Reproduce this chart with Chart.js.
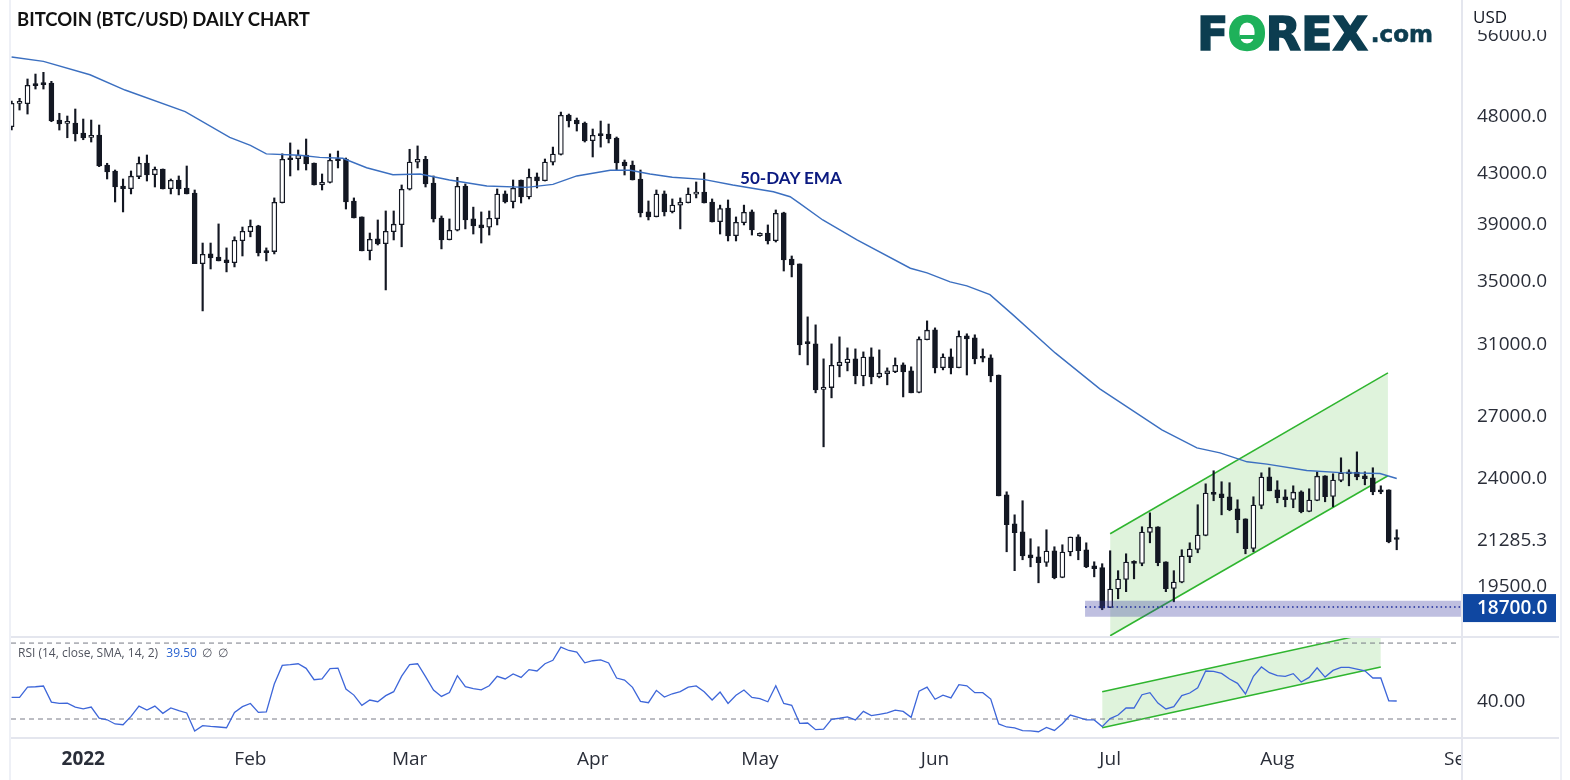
<!DOCTYPE html>
<html lang="en">
<head>
    <meta charset="UTF-8">
    <title>Bitcoin (BTC/USD) Daily Chart</title>
    <script src="https://cdn.jsdelivr.net/npm/chart.js"></script>
    <style>
        body { margin: 0; background: #fff; width: 1570px; height: 780px; overflow: hidden; position: relative; font-family: "Open Sans", sans-serif; }
        canvas { position: absolute; left: 0; }
        #priceChart { top: 0; }
        #rsiChart { top: 637px; }
        .frame { position: absolute; left: 9px; top: 0; width: 1549px; height: 780px; border-left: 2px solid #eef0f6; border-right: 2px solid #eef0f6; }
        .rule { position: absolute; left: 11px; width: 1548px; height: 2px; background: #e4e6ee; }
        .axis-line { position: absolute; left: 1461px; top: 0; width: 1.5px; height: 780px; background: #e4e6ee; }
        .title { position: absolute; left: 17px; top: 8px; font: bold 18.5px Lato, sans-serif; color: #111; white-space: nowrap; }
        .ema { position: absolute; left: 740px; top: 167px; font: bold 17.1px Lato, sans-serif; color: #0b1a80; white-space: nowrap; }
        .usd { position: absolute; left: 1464px; top: 0; width: 94px; height: 30px; background: #fff; }
        .usd span { position: absolute; left: 9px; top: 5px; font-size: 17px; color: #131722; }
        .rsi { position: absolute; left: 18px; top: 644px; font-size: 12px; color: #50535e; white-space: nowrap; }
        .rsi b { font-weight: normal; color: #2962d0; margin: 0 2px 0 5px; }
        .logo { position: absolute; left: 1197px; top: 7px; font: bold 46px "DejaVu Sans", sans-serif; color: #0c3d50; white-space: nowrap; -webkit-text-stroke: 1.5px #0c3d50; }
        .logo i { font-style: normal; color: #1eb15a; -webkit-text-stroke: 1.5px #1eb15a; position: relative; margin: 0 -1px; }
        .logo i::after { content: ''; position: absolute; left: 32%; top: 52%; width: 62%; height: 4px; background: #1eb15a; }
        .logo small { font-size: 23px; margin-left: 3px; position: relative; bottom: 8px; -webkit-text-stroke: 0.6px #0c3d50; }
    </style>
</head>
<body>
    <canvas id="priceChart" width="1570" height="637"></canvas>
    <canvas id="rsiChart" width="1570" height="143"></canvas>
    <div class="frame"></div>
    <div class="rule" style="top: 636px"></div>
    <div class="rule" style="top: 737px"></div>
    <div class="axis-line"></div>
    <div class="title">BITCOIN (BTC/USD) DAILY CHART</div>
    <div class="ema">50-DAY EMA</div>
    <div class="usd"><span>USD</span></div>
    <div class="logo">F<i>O</i>REX<small>.com</small></div>
    <div class="rsi">RSI (14, close, SMA, 14, 2) <b>39.50</b> ∅ &nbsp;∅</div>

<script>
    const opens = [
        46937,49089,49052,50939,51037,51037,47541,47240,47270,46373,
        45990,46197,43618,43120,41898,41682,42660,43785,42815,43285,
        41682,42382,41740,41340,36105,36785,36570,36363,36175,37730,
        38385,38810,37000,36950,40580,44205,44147,44460,43785,42005,
        42180,44120,44120,40712,39485,37015,37860,37510,38385,38910,
        41635,43845,44095,42140,39408,37805,38490,41898,39335,38885,
        38710,39360,41265,40660,42382,41030,42630,42325,43845,44510,
        48000,47541,47270,45690,46285,46285,45930,43870,43618,42464,
        39865,39510,41265,39890,40390,40580,41250,41420,40635,39130,
        40170,38090,39055,39865,38090,38287,37730,39790,36430,36085,
        30990,30960,28370,28475,29700,29870,30085,29120,30200,29080,
        29250,29360,29740,29400,28210,31215,31802,29585,30200,29585,
        31440,31320,30130,30140,29170,23190,21935,21600,20670,20590,
        20370,20830,19790,20780,21395,20870,20240,20165,18690,19360,
        19715,20395,20330,21570,21810,20395,19380,19610,20600,20880,
        21450,23280,23235,23100,22575,22145,20925,22720,24000,23411,
        23100,22980,23320,22460,22935,24050,23115,23830,24215,24215,
        24050,23955,23400,23411,21340
    ];
    const highs = [
        49304,49560,51430,51920,52090,51200,48160,47908,48555,47632,
        47541,47090,43760,43201,42464,43120,44293,44460,43450,43285,
        42464,42710,43533,41578,37560,37560,38960,37210,38010,38730,
        39257,38860,37210,40950,44560,45500,44887,45843,43785,42873,
        44560,44800,44205,40950,39485,38287,39257,39940,39940,41978,
        44950,45240,44350,42710,39560,39335,42600,42060,40235,39865,
        39940,41660,41500,42382,42382,43285,42955,44120,45140,48270,
        48090,47725,47360,46730,47450,47180,46020,44036,43950,43201,
        40712,41578,41500,40870,40950,41740,42220,42955,40870,40390,
        40790,39485,40390,40016,38300,38885,40016,39845,36640,36085,
        32605,32110,30085,30960,31380,30725,30665,30490,30725,30607,
        29570,30140,29855,29630,31380,32355,31925,30375,30665,31740,
        31565,31505,30665,30320,29170,23320,22315,22925,21315,20990,
        21685,20990,21070,21385,21480,21150,20395,20320,20830,20050,
        20710,20435,21810,22400,21810,20395,20050,20870,21150,22750,
        23680,24280,23775,23730,22967,22145,23100,24185,24420,23820,
        23411,23590,23365,23455,24230,24050,24140,24890,24325,25175,
        24230,24420,23590,23411,21685
    ];
    const lows = [
        46639,48462,48090,50450,50450,47388,46639,45955,45668,45781,
        45580,43476,42464,40635,39865,41265,42490,42300,41818,41660,
        41265,41190,41265,36105,32980,35740,36295,35540,35880,36640,
        38010,36640,36295,36785,40555,42710,43201,43201,41978,41578,
        42140,43370,40090,39408,37000,36363,37420,34333,37783,37290,
        41578,43370,41818,39105,37140,37783,38440,38590,38215,37560,
        38140,38885,40555,40170,40555,40870,41740,42300,43618,44460,
        46910,46550,45580,44293,45140,45500,43175,42790,42382,39485,
        39257,39485,39560,39790,38590,40555,40950,40555,39105,38215,
        37710,37710,38885,38140,38050,37490,37635,35600,35200,30320,
        29740,28190,25420,27920,29065,29400,28680,28570,28680,29010,
        28625,29300,27970,28190,28190,31199,29285,29457,29230,29570,
        29170,29800,29910,28790,23140,20790,20050,20474,20200,19590,
        20215,19740,19780,20630,20474,20165,19815,18605,18680,19000,
        19260,19740,20240,21150,20240,19260,18890,19590,20360,20750,
        21435,22925,22315,22490,21560,20710,20790,22575,23365,22835,
        22660,22620,22400,22445,22925,22880,22660,23775,23590,23863,
        23635,23190,23235,21150,20870
    ];
    const closes = [
        49089,49100,50812,50773,50870,47450,47180,47250,46285,45930,
        46170,43533,43037,41818,41682,42693,43760,42790,43260,41660,
        42358,41660,41265,36105,36760,36500,36295,36175,37760,38418,
        38780,36860,36880,40610,44095,44060,44435,43700,41978,42200,
        44010,43980,40635,39408,37000,37835,37490,38418,38940,41635,
        43870,44095,42060,39335,37783,38490,41875,39257,38810,38660,
        39385,41250,40635,41715,41030,42600,42300,43870,44535,47970,
        47450,47180,45668,46170,46135,45843,43785,43533,42382,39790,
        39485,41250,39865,40390,40610,41250,41400,40555,39105,40130,
        38070,39080,39845,38513,38260,37710,39765,36363,36020,30900,
        30980,28351,28497,29720,29895,30070,29120,30185,29065,29270,
        29400,29720,29345,28190,31240,31785,29570,30185,29570,31420,
        31260,30085,30120,29120,23140,21895,21560,20630,20550,20360,
        20820,19780,20780,21385,20830,20200,20130,18665,19360,19730,
        20385,20330,21590,21790,20360,19370,19620,20620,20900,21465,
        23265,23205,23055,22531,22104,20910,22735,23985,23365,23055,
        22967,23305,22445,22955,24030,23100,23850,24170,24140,24000,
        23910,23320,23320,21190,21285.3
    ];
    const emaBars = [0,4,9.85,14.25,21.8,27.4,30,32,36.2,38.7,41.6,44.6,47.9,51.3,55,59.7,64.7,68,71,75.2,77.7,80.2,83,86.9,90.6,95.7,97.8,99,101.9,106.2,112.9,115,117.9,120,122.9,125.8,131.1,136.7,144.5,148.9,151.8,155.2,157.7,162.7,166.9,171.9,174];
    const emaValues = [53640,53200,51850,50354,48305,45985,45290,44560,44435,44260,44180,43390,42815,42870,42382,41898,41790,42030,42710,43175,43175,42870,42600,42435,41978,41440,41045,40530,39257,37783,35790,35470,34865,34600,34020,32730,30430,28405,26261,25370,25130,24700,24590,24290,24195,24150,23925];
    const rsiValues = [
        41.4,41.4,46.8,47.0,47.4,38.9,38.2,38.4,36.3,35.4,
        36.3,30.5,29.6,27.4,27.0,31.4,36.8,34.7,36.8,33.0,
        35.8,34.4,33.2,23.7,26.5,26.1,25.8,25.4,33.5,36.5,
        38.2,33.5,33.7,48.4,58.2,58.6,59.1,56.7,50.7,51.1,
        56.5,56.8,45.8,42.6,37.2,40.0,39.1,42.3,44.4,52.6,
        58.6,59.1,52.3,45.3,41.9,43.9,52.8,47.0,46.0,45.4,
        47.5,52.5,51.1,53.7,51.9,56.0,55.3,59.1,60.9,67.9,
        66.1,65.3,59.6,60.7,61.1,59.5,51.6,50.5,46.7,39.3,
        38.6,45.1,41.6,43.3,44.4,46.8,47.4,44.4,40.0,44.2,
        38.2,42.5,45.3,41.4,40.7,39.1,47.5,38.2,37.2,27.7,
        27.9,24.4,24.7,29.8,30.4,31.1,29.5,34.0,31.8,32.5,
        33.2,34.7,34.0,30.9,44.7,46.8,40.4,42.6,41.1,48.1,
        47.5,43.9,43.9,40.5,27.4,25.8,25.3,23.9,23.7,23.3,
        25.6,24.0,27.5,32.1,30.9,29.5,29.5,26.0,30.2,32.1,
        35.8,35.8,42.8,43.9,38.4,35.3,36.5,42.3,43.7,46.5,
        55.3,55.1,54.0,51.1,48.8,43.2,52.5,57.4,54.4,52.8,
        52.5,53.9,49.5,51.9,57.0,52.1,55.6,57.2,57.2,56.3,
        55.4,51.6,51.6,39.6,39.5
    ];

    const channelBars = [138, 172.9];
    const channelUpper = [21520, 29290];
    const channelLower = [17700, 24050];
    const bandBars = [134.85, 182.2];
    const bandHigh = [18930, 18930];
    const bandLow = [18360, 18360];
    const supportLevel = [18700, 18700];

    const rsiChannelBars = [137, 172];
    const rsiChannelUpper = [44.4, 76.5];
    const rsiChannelLower = [25.4, 57.4];
    const rsiGuideBars = [-0.075, 181.6];
    const rsiGuideHigh = [70, 70];
    const rsiGuideLow = [30, 30];

    const priceTicks = [56000, 48000, 43000, 39000, 35000, 31000, 27000, 24000, 21285.3, 19500, 18700];
    const rsiTicks = [40];
    const monthBars = [9, 30, 50, 73, 94, 116, 138, 159, 182];
    const monthLabels = ['2022', 'Feb', 'Mar', 'Apr', 'May', 'Jun', 'Jul', 'Aug', 'Sep'];

    const DARK = '#131722';
    const AXIS_FONT = '"Open Sans", sans-serif';
    const xRange = { min: -0.075, max: 182.2 };

    function pairs(xs, ys) {
        return xs.map((x, i) => ({ x: x, y: ys[i] }));
    }

    // keep the plot area glued to the pixel rows we want
    function fixAxis(width) {
        return function (scale) {
            scale.width = width;
            scale.paddingTop = 0;
            scale.paddingBottom = 0;
        };
    }

    // empty first line plus a tiny line height pushes the label down a bit
    function nudged(text) {
        return ['', text];
    }

    function trendLine(xs, ys, color, extra) {
        return Object.assign({
            type: 'line', data: pairs(xs, ys), borderColor: color, borderWidth: 1.5,
            pointRadius: 0, tension: 0, fill: false
        }, extra);
    }

    const priceBox = {
        id: 'priceBox',
        beforeDraw(chart) {
            const y = chart.scales.y.getPixelForValue(18700);
            const c = chart.ctx;
            c.fillStyle = '#0f47a1';
            c.fillRect(1462, y - 13, 94, 28);
        }
    };

    // "Sep" runs into the price axis in the original, so it gets cut there
    const cutAxisCorner = {
        id: 'cutAxisCorner',
        afterDraw(chart) {
            const c = chart.ctx;
            c.fillStyle = '#fff';
            c.fillRect(1462, chart.chartArea.bottom + 1, 96, 42);
        }
    };

    function drawPrice() {
        const bars = opens.map((_, i) => i);
        new Chart(document.getElementById('priceChart'), {
            type: 'bar',
            data: {
                datasets: [
                    trendLine(channelBars, channelUpper, '#2fb52f', { order: 9, fill: '+1', backgroundColor: 'rgb(223,243,220)' }),
                    trendLine(channelBars, channelLower, '#2fb52f', { order: 8 }),
                    {
                        data: bars.map(i => ({ x: i, y: [lows[i], highs[i]] })),
                        backgroundColor: DARK, barThickness: 1.5, grouped: false, order: 6
                    },
                    {
                        data: bars.map(i => ({ x: i, y: [opens[i], closes[i]] })),
                        backgroundColor: bars.map(i => closes[i] >= opens[i] ? '#fff' : DARK),
                        borderColor: DARK, borderWidth: 1.3, borderSkipped: false,
                        barThickness: 5, minBarLength: 2, grouped: false, order: 5
                    },
                    trendLine(bandBars, bandHigh, 'transparent', { order: 3, borderWidth: 0, fill: '+1', backgroundColor: 'rgba(60,62,160,0.33)' }),
                    trendLine(bandBars, bandLow, 'transparent', { order: 3, borderWidth: 0 }),
                    trendLine(bandBars, supportLevel, '#1a2a9a', { order: 2, borderDash: [1.5, 3] }),
                    trendLine(emaBars, emaValues, '#3b6fc0', { order: 1, borderWidth: 1.4 })
                ]
            },
            options: {
                responsive: false,
                animation: false,
                layout: { padding: { left: 11, right: 0, top: 0, bottom: 0 } },
                plugins: { legend: { display: false }, tooltip: { enabled: false } },
                scales: {
                    x: { type: 'linear', min: xRange.min, max: xRange.max, offset: false, display: false },
                    y: {
                        type: 'logarithmic',
                        position: 'right',
                        min: 17658,
                        max: 59832,
                        grid: { display: false },
                        border: { display: false },
                        afterBuildTicks(axis) { axis.ticks = priceTicks.map(v => ({ value: v })); },
                        afterFit: fixAxis(108),
                        ticks: {
                            autoSkip: false,
                            padding: 7,
                            font: ctx => ({ family: AXIS_FONT, size: 19, lineHeight: '3px', weight: ctx.tick && ctx.tick.value === 18700 ? '600' : '400' }),
                            color: ctx => ctx.tick && ctx.tick.value === 18700 ? '#fff' : '#2a2e39',
                            callback: v => nudged(v.toFixed(1))
                        }
                    }
                }
            },
            plugins: [priceBox]
        });
    }

    function drawRsi() {
        new Chart(document.getElementById('rsiChart'), {
            type: 'line',
            data: {
                datasets: [
                    trendLine(rsiChannelBars, rsiChannelUpper, '#2fb52f', { order: 5, fill: '+1', backgroundColor: 'rgb(223,243,220)' }),
                    trendLine(rsiChannelBars, rsiChannelLower, '#2fb52f', { order: 4 }),
                    trendLine(rsiGuideBars, rsiGuideHigh, '#787b86', { order: 3, borderWidth: 1, borderDash: [5, 4] }),
                    trendLine(rsiGuideBars, rsiGuideLow, '#787b86', { order: 3, borderWidth: 1, borderDash: [5, 4] }),
                    trendLine(opens.map((_, i) => i), rsiValues, '#3d66d9', { order: 1, borderWidth: 1.3 })
                ]
            },
            options: {
                responsive: false,
                animation: false,
                layout: { padding: { left: 11, right: 0, top: 0, bottom: 0 } },
                plugins: { legend: { display: false }, tooltip: { enabled: false } },
                scales: {
                    x: {
                        type: 'linear',
                        min: xRange.min,
                        max: xRange.max,
                        offset: false,
                        grid: { display: false },
                        border: { display: false },
                        afterBuildTicks(axis) { axis.ticks = monthBars.map(v => ({ value: v })); },
                        afterFit(scale) { scale.height = 42; },
                        ticks: {
                            autoSkip: false,
                            maxRotation: 0,
                            padding: 2,
                            font: ctx => ({ family: AXIS_FONT, size: 19, weight: ctx.index === 0 ? '700' : '400' }),
                            color: '#2a2e39',
                            callback: (v, i) => monthLabels[i]
                        }
                    },
                    y: {
                        position: 'right',
                        min: 20,
                        max: 73.2,
                        grid: { display: false },
                        border: { display: false },
                        afterBuildTicks(axis) { axis.ticks = rsiTicks.map(v => ({ value: v })); },
                        afterFit: fixAxis(108),
                        ticks: {
                            autoSkip: false,
                            padding: 7,
                            font: { family: AXIS_FONT, size: 19, lineHeight: '3px' },
                            color: '#2a2e39',
                            callback: v => nudged(v.toFixed(2))
                        }
                    }
                }
            },
            plugins: [cutAxisCorner]
        });
    }

    drawPrice();
    drawRsi();
</script>
</body>
</html>
